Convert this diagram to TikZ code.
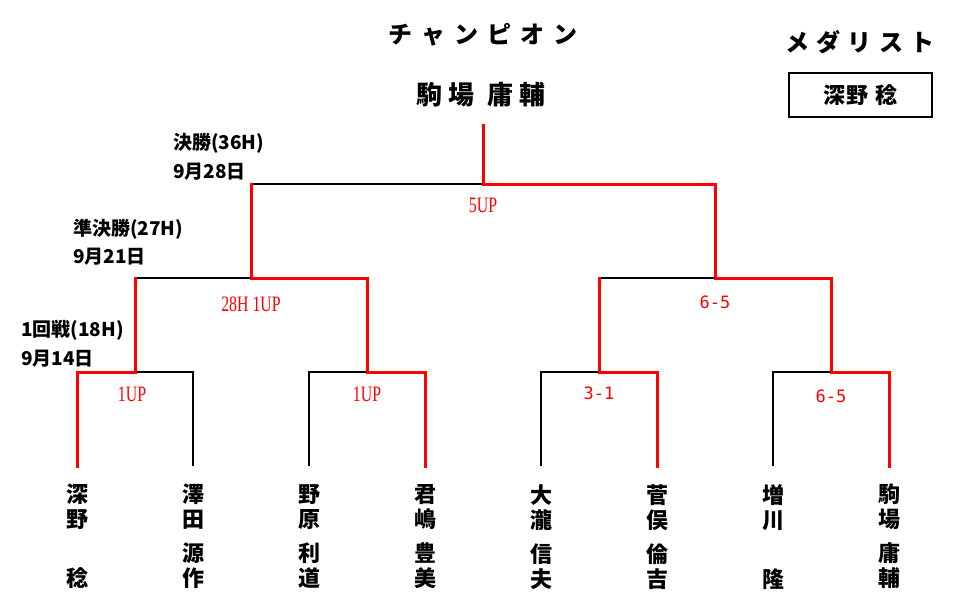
\documentclass[tikz,border=0pt]{standalone}
\usepackage{fontspec}
\usetikzlibrary{positioning}
\newfontfamily\jpfont{Noto Sans CJK JP}
\newfontfamily\upfont[FakeStretch=0.72]{Liberation Serif}
\newfontfamily\gothfont{DejaVu Sans Mono}
\begin{document}
\begin{tikzpicture}[x=1pt, y=-1pt, line join=miter,
	win/.style={red, line width=3pt, line cap=rect},
	lose/.style={black, line width=2pt},
	upscore/.style={red, inner sep=0, font=\upfont\fontsize{22pt}{24pt}\selectfont},
	dashscore/.style={red, inner sep=0, font=\gothfont\fontsize{17pt}{19pt}\selectfont},
	rounds/.style={anchor=west, inner sep=0, font=\jpfont\bfseries\fontsize{19pt}{21pt}\selectfont},
	player/.style={anchor=north, align=center, inner sep=0, font=\jpfont\bfseries\fontsize{22pt}{25pt}\selectfont}]
	\useasboundingbox (0,0) rectangle (966,615);
	\def\yp{466} % players
	\def\ym{372} % 1st round
	\def\ys{278} % semi final
	\def\yf{184} % final
	\foreach \x [count=\i] in {77,193,309,425,541,657,773,889}
		\coordinate (p\i) at (\x,\yp);
	\foreach \x [count=\i] in {135,367,599,831}
		\coordinate (m\i) at (\x,\ym);
	\coordinate (s1) at (251,\ys);
	\coordinate (s2) at (715,\ys);
	\coordinate (f) at (483,\yf);
	\coordinate (c) at (483,126);
	% heads
	\node[inner sep=0, font=\jpfont\bfseries\fontsize{24pt}{26pt}\selectfont\addfontfeature{LetterSpace=37}] (champhead) at (483,35) {チャンピオン};
	\node[inner sep=0, font=\jpfont\bfseries\fontsize{26pt}{28pt}\selectfont\addfontfeature{LetterSpace=25}] (champ) at (481,95) {駒場 庸輔};
	\node[inner sep=0, font=\jpfont\bfseries\fontsize{24pt}{26pt}\selectfont\addfontfeature{LetterSpace=30}] (medalhead) at (860,42) {メダリスト};
	\node[draw, line width=1.5pt, minimum width=143pt, minimum height=44pt, font=\jpfont\bfseries\fontsize{22pt}{24pt}\selectfont\addfontfeature{LetterSpace=8}] (medal) at (860.5,95) {深野 稔};
	% rounds
	\node[rounds] (r36) at (173,143) {決勝(36H)};
	\node[rounds] (d28) at (173,172) {9月28日};
	\node[rounds] (r27) at (73,229) {準決勝(27H)};
	\node[rounds] (d21) at (73,257) {9月21日};
	\node[rounds] (r18) at (21,330) {1回戦(18H)};
	\node[rounds] (d14) at (21,359) {9月14日};
	% bracket
	\draw[lose] (p2)|-(m1) (p3)|-(m2) (p5)|-(m3) (p7)|-(m4);
	\draw[lose] (m1|-s1)--(s1) (m3|-s2)--(s2) (s1|-f)--(f);
	\draw[win] (p1)|-(m1)--(m1|-s1);
	\draw[win] (p4)|-(m2)|-(s1)--(s1|-f);
	\draw[win] (p6)|-(m3)--(m3|-s2);
	\draw[win] (p8)|-(m4)|-(s2)|-(f)--(c);
	% scores
	\node[upscore, below=14pt of f] (sc7) {5UP};
	\node[upscore, below=19pt of s1] (sc5) {28H 1UP};
	\node[dashscore, below=18pt of s2] (sc6) {6-5};
	\node[upscore, below=15pt of m1, xshift=-3pt] (sc1) {1UP};
	\node[upscore, below=15pt of m2] (sc2) {1UP};
	\node[dashscore, below=15pt of m3] (sc3) {3-1};
	\node[dashscore, below=18pt of m4] (sc4) {6-5};
	% players
	\foreach \x/\a/\b/\c/\d [count=\i] in {77/深/野//稔, 193/澤/田/源/作, 309/野/原/利/道, 425/君/嶋/豊/美,
		541/大/瀧/信/夫, 657/菅/俣/倫/吉, 773/増/川//隆, 889/駒/場/庸/輔}
		\node[player] (n\i) at (\x,484) {\a\\\b\\[9pt]\c\\\d};
\end{tikzpicture}
\end{document}
